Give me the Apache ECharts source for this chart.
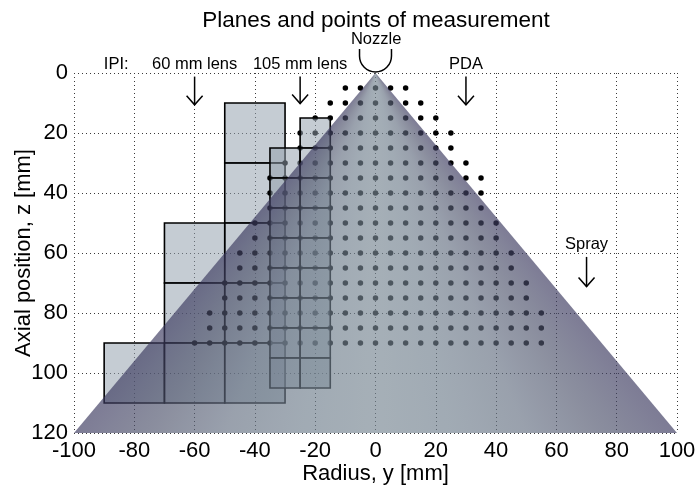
<!DOCTYPE html>
<html><head><meta charset="utf-8">
<script src="https://cdn.jsdelivr.net/npm/echarts@6/dist/echarts.min.js"></script>
<style>html,body{margin:0;padding:0;background:#fff}#c{width:695px;height:490px}</style>
</head><body><div id="c"></div>
<script>
// ---- data ----
const xTickValues = [-100, -80, -60, -40, -20, 0, 20, 40, 60, 80, 100];
const zTickValues = [0, 20, 40, 60, 80, 100, 120];
// PDA measurement rows (z) with left / right extent of the 5 mm point grid
const pdaZ     = [5, 10, 15, 20, 25, 30, 35, 40, 45, 50, 55, 60, 65, 70, 75, 80, 85, 90];
const pdaLeft  = [-10, -15, -20, -25, -25, -30, -35, -35, -35, -40, -40, -45, -45, -50, -50, -55, -55, -60];
const pdaRight = [10, 15, 20, 25, 25, 30, 35, 35, 35, 40, 40, 45, 45, 50, 50, 55, 55, 55];
const pdaStep = 5;
// IPI planes, 60 mm lens (20 x 20 mm fields): lower-left corner x, top z
const ipi60X = [-50, -50, -70, -50, -70, -50, -90, -70, -50];
const ipi60Z = [10, 30, 50, 50, 70, 70, 90, 90, 90];
const ipi60Size = 20;
// IPI planes, 105 mm lens (10 x 10 mm fields)
const ipi105X = [-25, -35, -25, -35, -25, -35, -25, -35, -25, -35, -25, -35, -25, -35, -25, -35, -25];
const ipi105Z = [15, 25, 25, 35, 35, 45, 45, 55, 55, 65, 65, 75, 75, 85, 85, 95, 95];
const ipi105Size = 10;
// spray cone outline
const coneY = [0, -100, 100];
const coneZ = [0, 120, 120];
// annotations
const labelTexts = ['IPI:', '60 mm lens', '105 mm lens', 'PDA', 'Spray', 'Nozzle'];
const labelY = [-86, -60, -25, 30, 70, 0.2];
const labelZ = [-3, -3, -3, -3, 57.3, -11.3];
const arrowY = [-60, -25, 30, 70];
const arrowZ0 = [1.2, 1.2, 1.2, 61.3];
const arrowZ1 = [10.6, 10.2, 10.6, 71.2];
const nozzleR = 5.3, nozzleTop = -8;

const FONT = '"Liberation Sans", Arial, Helvetica, sans-serif';

// build point / cell lists from the arrays
const pdaPoints = [];
pdaZ.forEach((z, i) => { for (let y = pdaLeft[i]; y <= pdaRight[i]; y += pdaStep) pdaPoints.push([y, z]); });
const ipi60Data = ipi60X.map((x, i) => [x, ipi60Z[i]]);
const ipi105Data = ipi105X.map((x, i) => [x, ipi105Z[i]]);

function cellRender(size, fill) {
  return function (params, api) {
    const x0 = api.value(0), z0 = api.value(1);
    const p0 = api.coord([x0, z0]);
    const p1 = api.coord([x0 + size, z0 + size]);
    return {
      type: 'rect',
      shape: { x: p0[0], y: p0[1], width: p1[0] - p0[0], height: p1[1] - p0[1] },
      style: { fill: fill, stroke: '#000', lineWidth: 1.6 }
    };
  };
}

// cone shading profile (|t| = 0 centre ... 1 edge), premultiplied for alpha
const coneAlpha = 0.66;
const coneProfile = [
  [0.00, [119, 134, 146]],
  [0.25, [112, 127, 141]],
  [0.50, [101, 112, 130]],
  [0.75, [78, 83, 108]],
  [1.00, [58, 56, 94]]
];
function profColor(a) {
  a = Math.min(1, Math.abs(a));
  for (let k = 1; k < coneProfile.length; k++) {
    if (a <= coneProfile[k][0]) {
      const [a0, c0] = coneProfile[k - 1], [a1, c1] = coneProfile[k];
      const f = (a - a0) / (a1 - a0);
      const c = c0.map((v, j) => Math.round(v + (c1[j] - v) * f));
      return 'rgba(' + c.join(',') + ',' + coneAlpha + ')';
    }
  }
  return 'rgba(' + coneProfile[coneProfile.length - 1][1].join(',') + ',' + coneAlpha + ')';
}
let coneFill = null;
function getConeFill(api) {
  if (coneFill) return coneFill;
  const apex = api.coord([coneY[0], coneZ[0]]);
  const L = api.coord([coneY[1], coneZ[1]]), R = api.coord([coneY[2], coneZ[2]]);
  const W = api.getWidth(), H = api.getHeight();
  const cv = document.createElement('canvas');
  cv.width = W; cv.height = H;
  const ctx = cv.getContext('2d');
  let g;
  const ts = [];
  for (let t = 1.3; t >= -1.3001; t -= 0.05) ts.push(t);
  if (ctx.createConicGradient) {
    g = ctx.createConicGradient(0, apex[0], apex[1]);
    ts.forEach(t => {
      const f = (1 - t) / 2; // t=1 -> R, t=-1 -> L
      const bx = R[0] + (L[0] - R[0]) * f, by = R[1] + (L[1] - R[1]) * f;
      let ang = Math.atan2(by - apex[1], bx - apex[0]);
      if (ang < 0) ang += Math.PI * 2;
      g.addColorStop(Math.min(1, Math.max(0, ang / (Math.PI * 2))), profColor(t));
    });
  } else {
    g = ctx.createLinearGradient(L[0], 0, R[0], 0);
    for (let t = -1; t <= 1.0001; t += 0.1) g.addColorStop((t + 1) / 2, profColor(t));
  }
  ctx.fillStyle = g;
  ctx.fillRect(0, 0, W, H);
  coneFill = { image: cv, repeat: 'no-repeat' };
  return coneFill;
}

const chart = echarts.init(document.getElementById('c'), null, { renderer: 'canvas' });
const axisLabelStyle = { color: '#000', fontSize: 22, fontFamily: FONT };
const gridLine = { show: true, lineStyle: { color: '#3a3a3a', width: 1, type: [1, 3] } };

chart.setOption({
  animation: false,
  backgroundColor: '#fff',
  title: {
    text: 'Planes and points of measurement',
    left: 376, top: 9, padding: 0,
    textAlign: 'center',
    textStyle: { fontSize: 22.5, fontWeight: 'normal', color: '#000', fontFamily: FONT }
  },
  grid: { left: 74, right: 18, top: 73, bottom: 57, containLabel: false, outerBoundsMode: 'none' },
  xAxis: {
    type: 'value', min: -100, max: 100, interval: 20,
    name: 'Radius, y [mm]', nameLocation: 'middle', nameGap: 30, nameMoveOverlap: false,
    nameTextStyle: { color: '#000', fontSize: 22, fontFamily: FONT },
    axisLine: { show: false }, axisTick: { show: false },
    axisLabel: Object.assign({ margin: 7, formatter: v => xTickValues.includes(v) ? String(v) : '' }, axisLabelStyle),
    splitLine: gridLine
  },
  yAxis: {
    type: 'value', min: 0, max: 120, interval: 20, inverse: true,
    name: 'Axial position, z [mm]', nameLocation: 'middle', nameGap: 39, nameMoveOverlap: false,
    nameTextStyle: { color: '#000', fontSize: 22, fontFamily: FONT },
    axisLine: { show: false }, axisTick: { show: false },
    axisLabel: Object.assign({ margin: 6, formatter: v => zTickValues.includes(v) ? String(v) : '' }, axisLabelStyle),
    splitLine: gridLine
  },
  series: [
    { name: 'IPI 60 mm lens', type: 'custom', z: 2, silent: true, encode: { x: 0, y: 1 },
      data: ipi60Data, renderItem: cellRender(ipi60Size, 'rgba(145,158,172,0.53)') },
    { name: 'PDA', type: 'scatter', z: 3, silent: true, symbol: 'circle', symbolSize: 5.5,
      itemStyle: { color: '#000', opacity: 1 }, data: pdaPoints },
    { name: 'IPI 105 mm lens', type: 'custom', z: 4, silent: true, encode: { x: 0, y: 1 },
      data: ipi105Data, renderItem: cellRender(ipi105Size, 'rgba(145,158,172,0.53)') },
    { name: 'Spray', type: 'custom', z: 5, silent: true, encode: { x: 0, y: 1 },
      data: [[coneY[0], coneZ[0]]],
      renderItem: function (params, api) {
        const pts = coneY.map((y, i) => api.coord([y, coneZ[i]]));
        return { type: 'polygon', shape: { points: pts }, style: { fill: getConeFill(api) } };
      } },
    { name: 'labels', type: 'custom', z: 6, silent: true, clip: false, encode: { x: 0, y: 1 },
      data: labelTexts.map((t, i) => [labelY[i], labelZ[i], i]),
      renderItem: function (params, api) {
        const p = api.coord([api.value(0), api.value(1)]);
        return { type: 'text', x: p[0], y: p[1],
          style: { text: labelTexts[api.value(2)], fontSize: 16.5, fontFamily: FONT, fill: '#000', align: 'center', verticalAlign: 'middle' } };
      } },
    { name: 'arrows', type: 'custom', z: 6, silent: true, clip: false, encode: { x: 0, y: 1 },
      data: arrowY.map((y, i) => [y, arrowZ0[i], arrowZ1[i]]),
      renderItem: function (params, api) {
        const a = api.coord([api.value(0), api.value(1)]);
        const b = api.coord([api.value(0), api.value(2)]);
        const ls = { stroke: '#000', lineWidth: 1.5 };
        return { type: 'group', children: [
          { type: 'line', shape: { x1: a[0], y1: a[1], x2: b[0], y2: b[1] }, style: ls },
          { type: 'polyline', shape: { points: [[b[0] - 8, b[1] - 9], [b[0], b[1]], [b[0] + 8, b[1] - 9]] }, style: Object.assign({ fill: null }, ls) }
        ] };
      } },
    { name: 'nozzle', type: 'custom', z: 6, silent: true, clip: false, encode: { x: 0, y: 1 },
      data: [[0, nozzleTop]],
      renderItem: function (params, api) {
        const apex = api.coord([coneY[0], coneZ[0]]);
        const top = api.coord([0, nozzleTop]);
        const r = api.size([nozzleR, 0])[0];
        const cx = apex[0], cy = apex[1] - r - 1;
        const ls = { stroke: '#000', lineWidth: 1.5, fill: null };
        return { type: 'group', children: [
          { type: 'line', shape: { x1: cx - r, y1: top[1], x2: cx - r, y2: cy }, style: ls },
          { type: 'line', shape: { x1: cx + r, y1: top[1], x2: cx + r, y2: cy }, style: ls },
          { type: 'arc', shape: { cx: cx, cy: cy, r: r, startAngle: 0, endAngle: Math.PI, clockwise: true }, style: ls }
        ] };
      } }
  ]
});
</script></body></html>
